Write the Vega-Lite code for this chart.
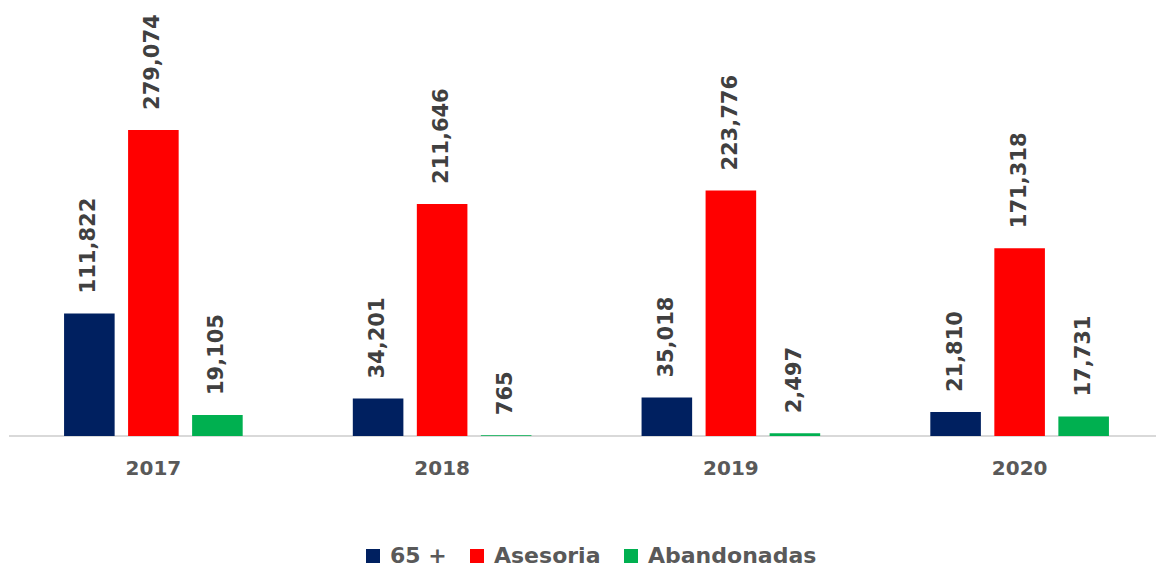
{
  "$schema": "https://vega.github.io/schema/vega-lite/v6.json",
  "width": 1148,
  "height": 436,
  "padding": {"left": 8, "top": 0, "right": 0, "bottom": 0},
  "autosize": {"type": "pad"},
  "background": "white",
  "config": {"view": {"stroke": null}, "font": "DejaVu Sans"},
  "data": {
    "values": [
      {"year": "2017", "serie": "65 +", "value": 111822},
      {"year": "2017", "serie": "Asesoria", "value": 279074},
      {"year": "2017", "serie": "Abandonadas", "value": 19105},
      {"year": "2018", "serie": "65 +", "value": 34201},
      {"year": "2018", "serie": "Asesoria", "value": 211646},
      {"year": "2018", "serie": "Abandonadas", "value": 765},
      {"year": "2019", "serie": "65 +", "value": 35018},
      {"year": "2019", "serie": "Asesoria", "value": 223776},
      {"year": "2019", "serie": "Abandonadas", "value": 2497},
      {"year": "2020", "serie": "65 +", "value": 21810},
      {"year": "2020", "serie": "Asesoria", "value": 171318},
      {"year": "2020", "serie": "Abandonadas", "value": 17731}
    ]
  },
  "layer": [
    {
      "mark": {"type": "rule", "color": "#d9d9d9", "strokeWidth": 2},
      "encoding": {
        "y": {"datum": 0, "type": "quantitative", "scale": {"domain": [0, 397600], "nice": false}, "axis": null}
      }
    },
    {
      "mark": {"type": "bar"},
      "encoding": {
        "x": {
          "field": "year", "type": "nominal",
          "scale": {"paddingInner": 0, "paddingOuter": 0, "range": [0, 1155]},
          "axis": {
            "title": null, "labelAngle": 0, "ticks": false, "domain": false,
            "labelFont": "DejaVu Sans", "labelFontSize": 20, "labelFontWeight": "bold",
            "labelColor": "#595959", "labelPadding": 22
          }
        },
        "xOffset": {
          "field": "serie", "type": "nominal",
          "sort": ["65 +", "Asesoria", "Abandonadas"],
          "scale": {"paddingInner": 0.21, "paddingOuter": 0.86}
        },
        "y": {
          "field": "value", "type": "quantitative",
          "axis": null
        },
        "color": {
          "field": "serie", "type": "nominal",
          "sort": ["65 +", "Asesoria", "Abandonadas"],
          "scale": {"domain": ["65 +", "Asesoria", "Abandonadas"], "range": ["#002060", "#ff0000", "#00b050"]},
          "legend": {
            "title": null, "orient": "none", "direction": "horizontal",
            "legendX": 353, "legendY": 545,
            "symbolType": "square", "symbolSize": 196, "symbolStrokeWidth": 0,
            "labelFont": "DejaVu Sans", "labelFontSize": 22, "labelFontWeight": "bold",
            "labelColor": "#595959", "columnPadding": 19, "labelOffset": 6, "labelLimit": 400
          }
        }
      }
    },
    {
      "mark": {"type": "text", "angle": -90, "align": "left", "baseline": "middle", "dx": 20,
        "font": "DejaVu Sans", "fontSize": 21, "fontWeight": "bold", "color": "#404040"},
      "encoding": {
        "x": {"field": "year", "type": "nominal"},
        "xOffset": {
          "field": "serie", "type": "nominal",
          "sort": ["65 +", "Asesoria", "Abandonadas"]
        },
        "y": {"field": "value", "type": "quantitative"},
        "text": {"field": "value", "type": "quantitative", "format": ",d"}
      }
    }
  ]
}
